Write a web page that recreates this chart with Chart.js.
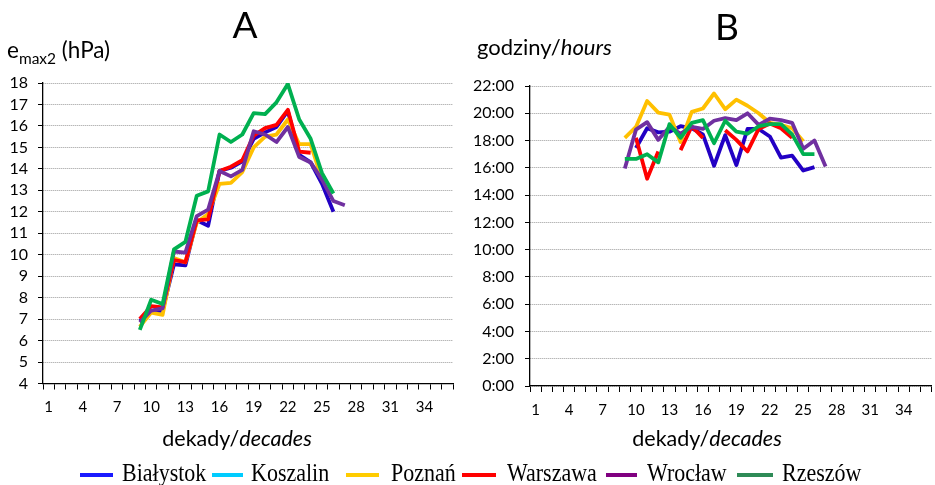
<!DOCTYPE html>
<html><head><meta charset="utf-8">
<script src="https://cdn.jsdelivr.net/npm/chart.js@4.4.1/dist/chart.umd.min.js"></script>
<style>
html,body{margin:0;padding:0;background:#fff;}
#wrap{position:relative;width:935px;height:485px;overflow:hidden;background:#fff;}
canvas{position:absolute;top:0;}
#cA{left:0;} #cB{left:465px;}
.lm{position:absolute;height:4px;top:473px;}
.lt{position:absolute;top:463px;font-family:'Liberation Serif';font-size:22px;line-height:22px;color:#000;white-space:nowrap;transform:scaleY(1.15);transform-origin:0 18px;}
</style></head>
<body><div id="wrap"><canvas id="cA" width="470" height="460"></canvas><canvas id="cB" width="470" height="460"></canvas><div id="legend"></div></div>
<script>
// ---- categories (decades) ----
const decades = [1,2,3,4,5,6,7,8,9,10,11,12,13,14,15,16,17,18,19,20,21,22,23,24,25,26,27,28,29,30,31,32,33,34,35,36];
const firstDecade = 9; // series below start at decade 9

const stations = ['Białystok','Koszalin','Poznań','Warszawa','Wrocław','Rzeszów'];

// ---- Panel A: e_max2 (hPa), decades 9.. ----
const A_bialystok = [6.9, 7.35, 7.4, 9.55, 9.5, 11.6, 11.35, 13.9, 14.05, 14.35, 15.4, 15.7, 15.95, 16.7, 14.65, 14.3, 13.3, 12.0];
const A_koszalin  = [];
const A_poznan    = [6.65, 7.3, 7.2, 9.85, 9.65, 11.5, 11.9, 13.3, 13.35, 13.85, 15.0, 15.5, 15.6, 16.3, 15.15, 15.15, 13.5];
const A_warszawa  = [7.0, 7.6, 7.55, 9.75, 9.65, 11.6, 11.65, 13.9, 14.1, 14.4, 15.55, 15.9, 16.05, 16.75, 14.8, 14.75];
const A_wroclaw   = [6.85, 7.4, 7.5, 10.15, 10.1, 11.8, 12.1, 13.9, 13.65, 13.95, 15.75, 15.6, 15.25, 15.95, 14.55, 14.3, 13.5, 12.5, 12.3];
const A_rzeszow   = [6.5, 7.9, 7.7, 10.25, 10.6, 12.75, 12.95, 15.6, 15.25, 15.6, 16.6, 16.55, 17.1, 17.95, 16.3, 15.4, 13.8, 12.85];

// ---- Panel B: hour of maximum (decimal hours), decades 9.. ----
const B_bialystok = [null, 17.45, 18.9, 18.6, 18.65, 19.05, 18.9, 18.45, 16.15, 18.4, 16.2, 18.85, 18.85, 18.3, 16.75, 16.9, 15.8, 16.05];
const B_koszalin  = [];
const B_poznan    = [18.2, 19.0, 20.9, 20.05, 19.9, 17.9, 20.1, 20.35, 21.45, 20.3, 21.0, 20.55, 20.0, 19.3, 19.15, 18.9, 17.95];
const B_warszawa  = [null, 18.2, 15.2, 17.2, null, 17.3, 19.05, 18.2, null, 18.75, 18.05, 17.2, 18.85, 19.25, 18.9, 18.2];
const B_wroclaw   = [15.95, 18.8, 19.35, 18.05, 19.0, 18.5, 19.0, 18.85, 19.45, 19.65, 19.5, 20.0, 19.15, 19.6, 19.5, 19.3, 17.4, 18.0, 16.1];
const B_rzeszow   = [16.65, 16.65, 17.0, 16.4, 19.2, 18.2, 19.3, 19.5, 17.8, 19.45, 18.65, 18.5, 19.05, 19.2, 19.2, 18.45, 17.0, 17.0];

// ---- tick labels ----
const hourTickLabels = ['0:00','2:00','4:00','6:00','8:00','10:00','12:00','14:00','16:00','18:00','20:00','22:00'];

// ---- styles ----
const lineColors   = ['#2200C4','#00B0F0','#FFC000','#FF0000','#7030A0','#00B050'];
const legendColors = ['#1a1aff','#00ccff','#ffcc00','#ff0000','#800080','#2e8b57'];

function pad(vals){
  const out = decades.map(() => null);
  vals.forEach((v, i) => { out[firstDecade - 1 + i] = v; });
  return out;
}
function makeDatasets(series){
  return series.map((vals, i) => ({
    label: stations[i], data: pad(vals), borderColor: lineColors[i], backgroundColor: lineColors[i],
    borderWidth: 3.8, pointRadius: 0, tension: 0, spanGaps: false, fill: false,
    borderJoinStyle: 'round', order: series.length - i
  }));
}

function drawMixed(ctx, parts, x, y){
  parts.forEach(p => { ctx.font = p.font; ctx.fillText(p.t, x, y + (p.dy || 0)); x += ctx.measureText(p.t).width; });
}
function mixedWidth(ctx, parts){
  let w = 0; parts.forEach(p => { ctx.font = p.font; w += ctx.measureText(p.t).width; }); return w;
}

function makeOptions(cfg){
  return {
    responsive: false, animation: false, maintainAspectRatio: false,
    layout: { padding: cfg.padding },
    plugins: { legend: { display: false }, tooltip: { enabled: false } },
    scales: {
      x: {
        type: 'category', offset: true,
        grid: { display: true, drawOnChartArea: false, drawTicks: true, tickLength: 6, tickColor: '#000', tickWidth: 1, offset: true, tickBorderDash: [] },
        border: { display: true, color: '#000', width: 1.3 },
        ticks: { autoSkip: false, maxRotation: 0, minRotation: 0, padding: 9, color: '#000',
                 font: { family: 'Lato', size: 15 },
                 callback: (v, i) => (i % 3 === 0 ? String(decades[i]) : '') },
        afterFit: s => { s.height = 40; }
      },
      y: {
        min: cfg.min, max: cfg.max,
        grid: { color: '#9a9a9a', lineWidth: 1, drawTicks: true, tickLength: 5, tickColor: '#000', tickWidth: 1, tickBorderDash: [] },
        border: { display: true, color: '#000', width: 1.3, dash: [1, 1] },
        ticks: { stepSize: cfg.step, padding: cfg.tickPad, color: '#000', autoSkip: false,
                 font: { family: 'Lato', size: 16 }, callback: cfg.tickCb },
        afterFit: s => { s.width = cfg.yWidth; }
      }
    }
  };
}

const textA = {
  id: 'textA',
  afterDraw(chart){
    const ctx = chart.ctx; ctx.save(); ctx.fillStyle = '#000'; ctx.textBaseline = 'alphabetic';
    ctx.textAlign = 'center'; ctx.font = '37px Lato'; ctx.fillText('A', 245, 38);
    ctx.textAlign = 'left';
    drawMixed(ctx, [{t:'e', font:'22.5px Lato'}, {t:'max2', font:'15.5px Lato'}, {t:' (hPa)', font:'22.5px Lato'}].map((p, i) => (i === 1 ? Object.assign(p, {dy: 6}) : p)), 7, 58);
    const parts = [{t:'dekady/', font:'21.5px Lato'}, {t:'decades', font:'italic 21.5px Lato'}];
    drawMixed(ctx, parts, 237 - mixedWidth(ctx, parts) / 2, 446);
    ctx.restore();
  }
};
const textB = {
  id: 'textB',
  afterDraw(chart){
    const ctx = chart.ctx; ctx.save(); ctx.fillStyle = '#000'; ctx.textBaseline = 'alphabetic';
    ctx.textAlign = 'center'; ctx.font = '37px Lato'; ctx.fillText('B', 262, 40);
    ctx.textAlign = 'left';
    drawMixed(ctx, [{t:'godziny/', font:'22px Lato'}, {t:'hours', font:'italic 22px Lato'}], 12, 55);
    const parts = [{t:'dekady/', font:'21.5px Lato'}, {t:'decades', font:'italic 21.5px Lato'}];
    drawMixed(ctx, parts, 242 - mixedWidth(ctx, parts) / 2, 446);
    ctx.restore();
  }
};

new Chart(document.getElementById('cA'), {
  type: 'line',
  data: { labels: decades, datasets: makeDatasets([A_bialystok, A_koszalin, A_poznan, A_warszawa, A_wroclaw, A_rzeszow]) },
  options: makeOptions({ padding: { left: 0, top: 83, right: 17, bottom: 36.5 }, min: 4, max: 18, step: 1, tickPad: 10, yWidth: 43,
                         tickCb: v => String(v) }),
  plugins: [textA]
});
new Chart(document.getElementById('cB'), {
  type: 'line',
  data: { labels: decades, datasets: makeDatasets([B_bialystok, B_koszalin, B_poznan, B_warszawa, B_wroclaw, B_rzeszow]) },
  options: makeOptions({ padding: { left: 0, top: 86, right: 1, bottom: 34 }, min: 0, max: 22, step: 2, tickPad: 11, yWidth: 65,
                         tickCb: v => hourTickLabels[Math.round(v / 2)] }),
  plugins: [textB]
});

// ---- legend (HTML) ----
const legendLayout = [ {m:[80,113], t:122}, {m:[212,243], t:251}, {m:[346,379], t:391}, {m:[462,496], t:507}, {m:[606,637], t:647}, {m:[737,773], t:782} ];
const lg = document.getElementById('legend');
stations.forEach((name, i) => {
  const L = legendLayout[i];
  const m = document.createElement('div'); m.className = 'lm';
  m.style.left = L.m[0] + 'px'; m.style.width = (L.m[1] - L.m[0]) + 'px'; m.style.background = legendColors[i];
  const t = document.createElement('div'); t.className = 'lt'; t.style.left = L.t + 'px'; t.textContent = name;
  lg.appendChild(m); lg.appendChild(t);
});
</script>
</body></html>
